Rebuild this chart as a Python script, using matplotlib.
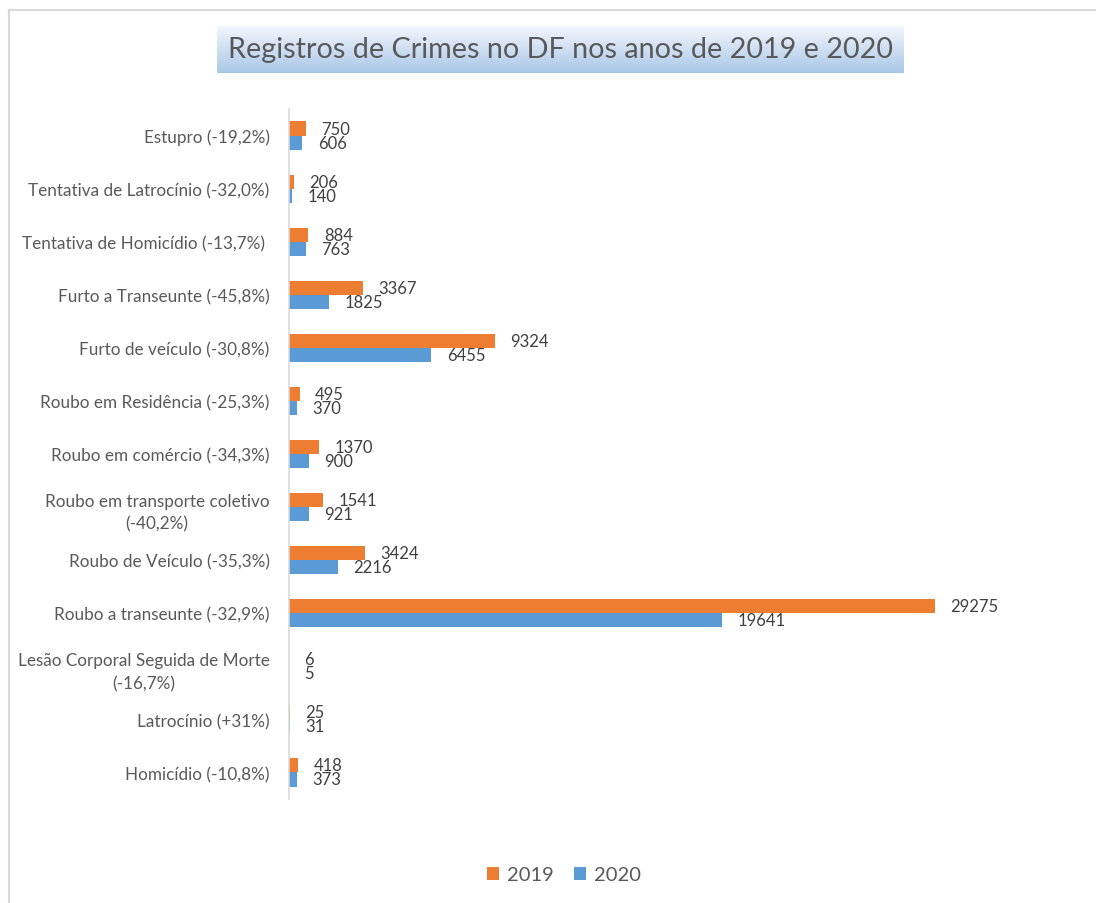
#import packages
import matplotlib.pyplot as plt
import numpy as np
from matplotlib.lines import Line2D

plt.rcParams['font.family'] = ['Lato', 'DejaVu Sans']

#data (top to bottom)
categories = ["Estupro (-19,2%)",
              "Tentativa de Latrocínio (-32,0%)",
              "Tentativa de Homicídio (-13,7%) ",
              "Furto a Transeunte (-45,8%)",
              "Furto de veículo (-30,8%)",
              "Roubo em Residência (-25,3%)",
              "Roubo em comércio (-34,3%)",
              "Roubo em transporte coletivo\n(-40,2%)",
              "Roubo de Veículo (-35,3%)",
              "Roubo a transeunte (-32,9%)",
              "Lesão Corporal Seguida de Morte\n(-16,7%)",
              "Latrocínio (+31%)",
              "Homicídio (-10,8%)"]
values2019 = [750, 206, 884, 3367, 9324, 495, 1370, 1541, 3424, 29275, 6, 25, 418]
values2020 = [606, 140, 763, 1825, 6455, 370, 900, 921, 2216, 19641, 5, 31, 373]

orange = "#ED7D31"
blue = "#5B9BD5"
gray_txt = "#595959"

fig = plt.figure(figsize=(10.96, 9.04), dpi=100)
ax = fig.add_axes([289/1096, 1-800/904, 772/1096, 690/904])

y = np.arange(len(categories))
h = 0.265
ax.barh(y - h/2, values2019, height=h, color=orange, label="2019")
ax.barh(y + h/2, values2020, height=h, color=blue, label="2020")

#value labels just outside the bar ends
for yi, v in zip(y, values2019):
    ax.annotate(str(v), (v, yi - h/2), xytext=(11, 0), textcoords="offset points",
                va="center", ha="left", fontsize=12, color="#404040")
for yi, v in zip(y, values2020):
    ax.annotate(str(v), (v, yi + h/2), xytext=(11, 0), textcoords="offset points",
                va="center", ha="left", fontsize=12, color="#404040")

ax.set_xlim(0, 35000)
ax.set_ylim(len(categories) - 0.5, -0.5)
ax.set_yticks(y)
ax.set_yticklabels(categories, fontsize=12.3, color=gray_txt, multialignment="center",
                   linespacing=1.55)
ax.tick_params(axis="y", length=0, pad=14)
ax.set_xticks([])
for s in ["top", "right", "bottom"]:
    ax.spines[s].set_visible(False)
ax.spines["left"].set_color("#d9d9d9")
ax.spines["left"].set_linewidth(1.2)

#title in a gradient box
tax = fig.add_axes([217/1096, 1-74/904, 686/1096, 47/904])
grad = np.linspace(0, 1, 100).reshape(-1, 1)
c_top = np.array([0.96, 0.97, 0.99])
c_bot = np.array([0.66, 0.78, 0.91])
img = c_top + (c_bot - c_top) * grad[:, :, None]
tax.imshow(img, aspect="auto", extent=[0, 1, 0, 1])
tax.set_xlim(0, 1)
tax.set_ylim(0, 1)
tax.axis("off")
tax.text(0.5, 0.5, "Registros de Crimes no DF nos anos de 2019 e 2020", ha="center", va="center",
         fontsize=20.7, color=gray_txt)

#legend at the bottom
fig.legend(loc="center", bbox_to_anchor=(564/1096, 1-876/904), ncol=2, frameon=False,
           fontsize=14.5, labelcolor=gray_txt, handlelength=0.6, handleheight=0.6,
           handletextpad=0.4, columnspacing=1.0)

#chart border (only left and top visible)
fig.add_artist(Line2D([9/1096, 9/1096], [0, 1-11/904], color="#d9d9d9", lw=1.5))
fig.add_artist(Line2D([9/1096, 1], [1-11/904, 1-11/904], color="#d9d9d9", lw=1.5))

fig.savefig("out.png", dpi=100)
